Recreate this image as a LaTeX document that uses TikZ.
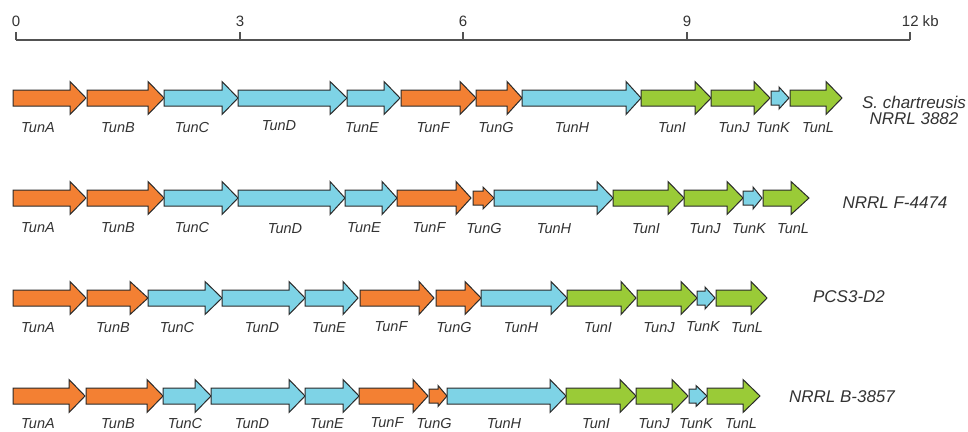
\documentclass[tikz,border=0pt]{standalone}
\usepackage{fontspec}
\setmainfont{Liberation Sans}
\definecolor{gorange}{HTML}{F38033}
\definecolor{gblue}{HTML}{7ED3E6}
\definecolor{ggreen}{HTML}{9ACB37}
\definecolor{txtgray}{HTML}{333333}
\definecolor{outl}{HTML}{2A2A2A}
\tikzset{
  gene/.style={draw=outl,line width=1pt,line join=miter},
  glabel/.style={font=\fontsize{14.5}{14.5}\selectfont\itshape,text=txtgray,inner sep=0pt,anchor=center},
  slabel/.style={font=\fontsize{17}{17}\selectfont\itshape,text=txtgray,inner sep=0pt,anchor=center},
  scalelbl/.style={font=\fontsize{15}{15}\selectfont,text=txtgray,inner sep=0pt,anchor=base},
}
% start, headbase, tip, y, colour, bodyhalf, headhalf
\newcommand{\gn}[7]{%
  \draw[gene,fill=#5] (#1,#4-#6) -- (#2,#4-#6) -- (#2,#4-#7) -- (#3,#4) -- (#2,#4+#7) -- (#2,#4+#6) -- (#1,#4+#6) -- cycle;}
\begin{document}
\begin{tikzpicture}[x=1pt,y=-1pt]
\useasboundingbox (0,0) rectangle (968,431);
% scale bar
\draw[line width=1.1pt,draw=txtgray!85] (16,40) -- (910,40);
\foreach \xx in {16,240,463,687,910} \draw[line width=1.1pt,draw=txtgray!85] (\xx,40) -- (\xx,32);
\node[scalelbl] (s0) at (16,26) {0};
\node[scalelbl] (s3) at (240,26) {3};
\node[scalelbl] (s6) at (463,26) {6};
\node[scalelbl] (s9) at (687,26) {9};
\node[scalelbl,anchor=base west] (s12) at (901.7,26) {12 kb};

% ---------- row 1 ----------
\gn{13}{70}{86}{98}{gorange}{8}{16.5}
\gn{87}{148}{164}{98}{gorange}{8}{16.5}
\gn{164}{222}{238}{98}{gblue}{8}{16.5}
\gn{238}{330}{347}{98}{gblue}{8}{16.5}
\gn{347}{384}{400}{98}{gblue}{8}{16.5}
\gn{401}{460}{476}{98}{gorange}{8}{16.5}
\gn{476}{507}{522}{98}{gorange}{8}{16.5}
\gn{522}{626}{641}{98}{gblue}{8}{16.5}
\gn{641}{695}{711}{98}{ggreen}{8}{16.5}
\gn{711}{754}{770}{98}{ggreen}{8}{16.5}
\gn{771}{779}{789}{98}{gblue}{7}{11}
\gn{790}{826}{842}{98}{ggreen}{8}{16.5}
\node[glabel] (a1) at (38,128) {TunA};
\node[glabel] (b1) at (118,128) {TunB};
\node[glabel] (c1) at (192,128) {TunC};
\node[glabel] (d1) at (279,126) {TunD};
\node[glabel] (e1) at (362,128) {TunE};
\node[glabel] (f1) at (433,128) {TunF};
\node[glabel] (g1) at (496,128) {TunG};
\node[glabel] (h1) at (572,128) {TunH};
\node[glabel] (i1) at (672,128) {TunI};
\node[glabel] (j1) at (734,128) {TunJ};
\node[glabel] (k1) at (773,128) {TunK};
\node[glabel] (l1) at (818,128) {TunL};
\node[slabel] (st1a) at (914,102) {S. chartreusis};
\node[slabel] (st1b) at (914,119) {NRRL 3882};

% ---------- row 2 ----------
\gn{13}{70}{86}{198}{gorange}{8}{16.5}
\gn{87}{148}{164}{198}{gorange}{8}{16.5}
\gn{164}{222}{238}{198}{gblue}{8}{16.5}
\gn{238}{330}{345}{198}{gblue}{8}{16.5}
\gn{345}{382}{397}{198}{gblue}{8}{16.5}
\gn{397}{456}{471}{198}{gorange}{8}{16.5}
\gn{473}{483}{494}{198}{gorange}{7}{11}
\gn{494}{597}{613}{198}{gblue}{8}{16.5}
\gn{613}{668}{684}{198}{ggreen}{8}{16.5}
\gn{684}{727}{743}{198}{ggreen}{8}{16.5}
\gn{743}{753}{762}{198}{gblue}{7}{11}
\gn{763}{791}{809}{198}{ggreen}{8}{16.5}
\node[glabel] (a2) at (38,228) {TunA};
\node[glabel] (b2) at (118,228) {TunB};
\node[glabel] (c2) at (192,228) {TunC};
\node[glabel] (d2) at (285,229) {TunD};
\node[glabel] (e2) at (364,228) {TunE};
\node[glabel] (f2) at (429,228) {TunF};
\node[glabel] (g2) at (484,229) {TunG};
\node[glabel] (h2) at (554,229) {TunH};
\node[glabel] (i2) at (646,229) {TunI};
\node[glabel] (j2) at (705,229) {TunJ};
\node[glabel] (k2) at (749,229) {TunK};
\node[glabel] (l2) at (793,229) {TunL};
\node[slabel] (st2) at (895,203) {NRRL F-4474};

% ---------- row 3 ----------
\gn{13}{70}{86}{298}{gorange}{8}{16.5}
\gn{87}{130}{148}{298}{gorange}{8}{16.5}
\gn{148}{205}{222}{298}{gblue}{8}{16.5}
\gn{222}{289}{305}{298}{gblue}{8}{16.5}
\gn{305}{343}{358}{298}{gblue}{8}{16.5}
\gn{360}{419}{434}{298}{gorange}{8}{16.5}
\gn{436}{465}{481}{298}{gorange}{8}{16.5}
\gn{481}{551}{567}{298}{gblue}{8}{16.5}
\gn{567}{621}{636}{298}{ggreen}{8}{16.5}
\gn{637}{681}{697}{298}{ggreen}{8}{16.5}
\gn{697}{705}{715}{298}{gblue}{7}{11}
\gn{716}{751}{767}{298}{ggreen}{8}{16.5}
\node[glabel] (a3) at (38,328) {TunA};
\node[glabel] (b3) at (113,328) {TunB};
\node[glabel] (c3) at (177,328) {TunC};
\node[glabel] (d3) at (262,328) {TunD};
\node[glabel] (e3) at (329,328) {TunE};
\node[glabel] (f3) at (391,327) {TunF};
\node[glabel] (g3) at (454,328) {TunG};
\node[glabel] (h3) at (521,328) {TunH};
\node[glabel] (i3) at (598,328) {TunI};
\node[glabel] (j3) at (659,328) {TunJ};
\node[glabel] (k3) at (703,327) {TunK};
\node[glabel] (l3) at (747,328) {TunL};
\node[slabel] (st3) at (849,297) {PCS3-D2};

% ---------- row 4 ----------
\gn{13}{69}{85}{396}{gorange}{8}{16.5}
\gn{86}{147}{163}{396}{gorange}{8}{16.5}
\gn{163}{195}{211}{396}{gblue}{8}{16.5}
\gn{211}{289}{305}{396}{gblue}{8}{16.5}
\gn{305}{343}{359}{396}{gblue}{8}{16.5}
\gn{359}{413}{428}{396}{gorange}{8}{16.5}
\gn{429}{438}{447}{396}{gorange}{7}{10.5}
\gn{447}{550}{566}{396}{gblue}{8}{16.5}
\gn{566}{620}{636}{396}{ggreen}{8}{16.5}
\gn{636}{672}{688}{396}{ggreen}{8}{16.5}
\gn{689}{696}{707}{396}{gblue}{7}{10.5}
\gn{707}{743}{760}{396}{ggreen}{8}{16.5}
\node[glabel] (a4) at (38,423.5) {TunA};
\node[glabel] (b4) at (118,423.5) {TunB};
\node[glabel] (c4) at (185,423.5) {TunC};
\node[glabel] (d4) at (252,423.5) {TunD};
\node[glabel] (e4) at (327,423.5) {TunE};
\node[glabel] (f4) at (387,423) {TunF};
\node[glabel] (g4) at (434,423.5) {TunG};
\node[glabel] (h4) at (504,423.5) {TunH};
\node[glabel] (i4) at (596,423.5) {TunI};
\node[glabel] (j4) at (654,423.5) {TunJ};
\node[glabel] (k4) at (696,423.5) {TunK};
\node[glabel] (l4) at (741,423.5) {TunL};
\node[slabel] (st4) at (842,397) {NRRL B-3857};
\end{tikzpicture}
\end{document}
